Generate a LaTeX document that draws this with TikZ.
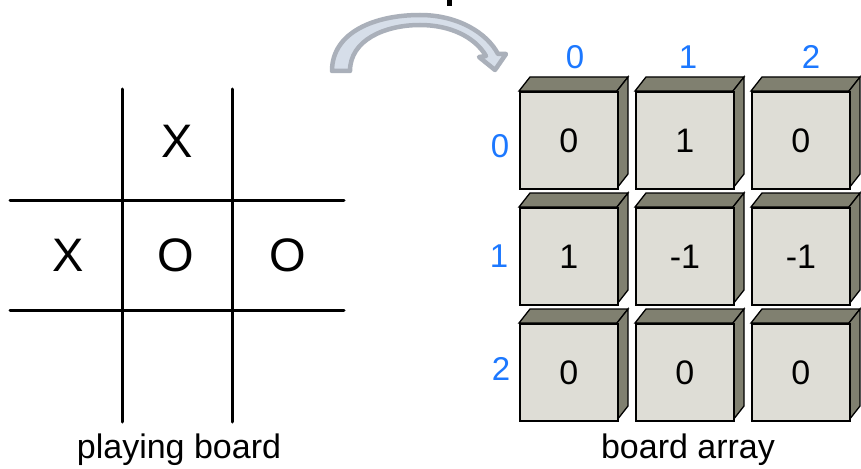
\documentclass[tikz,border=0pt]{standalone}
\usepackage{fontspec}
\setmainfont{Liberation Sans}
\begin{document}
\begin{tikzpicture}[x=1pt,y=-1pt,
  gridline/.style={line width=3pt,line cap=round},
  symbol/.style={font=\fontsize{47}{47}\selectfont,inner sep=0pt},
  caption/.style={font=\fontsize{34}{34}\selectfont,anchor=base,inner sep=0pt},
  index/.style={font=\fontsize{33}{33}\selectfont,text=idxblue,inner sep=0pt},
  cellnum/.style={font=\fontsize{34}{34}\selectfont,inner sep=0pt},
  front/.style={fill=boxfront,draw=black,line width=1.8pt,line join=miter},
  sideface/.style={fill=boxside,draw=black,line width=1.3pt,line join=miter}]
\definecolor{idxblue}{RGB}{28,120,255}
\definecolor{boxfront}{RGB}{222,221,214}
\definecolor{boxside}{RGB}{128,128,112}
\definecolor{arrowedge}{RGB}{170,176,186}
\definecolor{arrowfill}{RGB}{214,222,233}
\useasboundingbox (0,0) rectangle (861,468);
\fill[white] (0,0) rectangle (861,468);

% tic-tac-toe grid
\draw[gridline] (122,89) -- (122,422);
\draw[gridline] (232,89) -- (232,422);
\draw[gridline] (10,200) -- (344,200);
\draw[gridline] (10,310) -- (344,310);
\node[symbol] (x01) at (177,141) {X};
\node[symbol] (x10) at (68,255) {X};
\node[symbol] (o11) at (176,255) {O};
\node[symbol] (o12) at (288,255) {O};
\node[caption] (lbl1) at (179,458) {playing board};

% small clipped mark at the top
\fill[black] (447,0) rectangle (452,6);

% curved arrow
\path[fill=arrowfill,draw=arrowedge,line width=4.5pt,line join=round]
  (332,71) .. controls (332,32) and (375,15) .. (420,15)
  .. controls (458,15) and (487,33) .. (498,54)
  -- (506,54) -- (495,70) -- (479,57) -- (486,56)
  .. controls (475,37) and (450,25) .. (420,25)
  .. controls (385,25) and (350,40) .. (350,71) -- cycle;

% board array cells
\foreach \r/\ry in {0/91,1/207,2/323}{
  \foreach \c/\cx in {0/519,1/635,2/751}{
    \path[sideface]
      (\cx,\ry) -- ++(11,-14) -- ++(98,0) -- ++(-11,14) -- cycle;
    \path[sideface]
      (\cx+98,\ry) -- ++(11,-14) -- ++(0,97) -- ++(-11,14) -- cycle;
    \node[front,minimum width=98pt,minimum height=97pt,anchor=north west,inner sep=0pt]
      (cell\r\c) at (\cx,\ry) {};
  }
}
\node[cellnum] at (cell00) {0};
\node[cellnum] at (cell01) {1};
\node[cellnum] at (cell02) {0};
\node[cellnum] at (cell10) {1};
\node[cellnum] at (cell11) {-1};
\node[cellnum] at (cell12) {-1};
\node[cellnum] at (cell20) {0};
\node[cellnum] at (cell21) {0};
\node[cellnum] at (cell22) {0};

% row and column indices
\node[index] (c0) at (575,57) {0};
\node[index] (c1) at (688,57) {1};
\node[index] (c2) at (811,57) {2};
\node[index] (r0) at (500,146) {0};
\node[index] (r1) at (499,256) {1};
\node[index] (r2) at (501,369) {2};

\node[caption] (lbl2) at (688,458) {board array};
\end{tikzpicture}
\end{document}
